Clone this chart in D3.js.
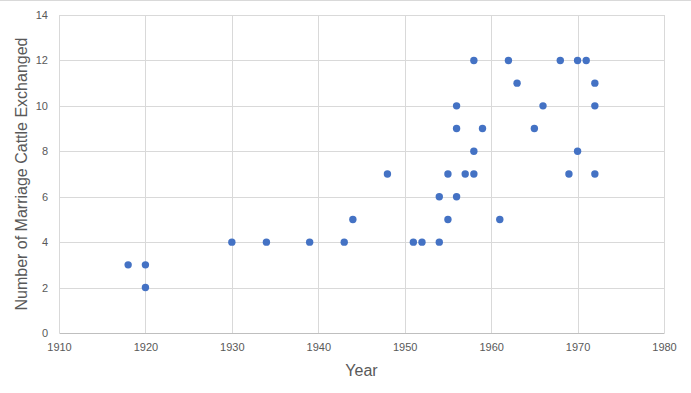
<!DOCTYPE html>
<html>
<head>
<meta charset="utf-8">
<script src="https://cdn.jsdelivr.net/npm/d3@7"></script>
<style>
  body { margin: 0; background: #fff; }
  svg { display: block; font-family: "Liberation Sans", Arial, sans-serif; }
</style>
</head>
<body>
<div id="chart-area"></div>
<script>
// data
var years = [1918, 1920, 1920, 1930, 1934, 1939, 1943, 1944, 1948,
             1951, 1952, 1954, 1954, 1955, 1955, 1956, 1956, 1956, 1957,
             1958, 1958, 1958, 1959, 1961, 1962, 1963, 1965, 1966,
             1968, 1969, 1970, 1970, 1971, 1972, 1972, 1972];
var cattle = [3, 3, 2, 4, 4, 4, 4, 5, 7,
              4, 4, 4, 6, 5, 7, 10, 9, 6, 7,
              12, 8, 7, 9, 5, 12, 11, 9, 10,
              12, 7, 12, 8, 12, 11, 10, 7];
var xTicks = [1910, 1920, 1930, 1940, 1950, 1960, 1970, 1980];
var yTicks = [0, 2, 4, 6, 8, 10, 12, 14];

var W = 691, H = 393;
var margin = { top: 15, right: 27, bottom: 60, left: 59 },
    width = W - margin.left - margin.right,
    height = H - margin.top - margin.bottom;

var root = d3.select('#chart-area').append('svg')
    .attr('width', W)
    .attr('height', H);

// top edge line
root.append('line')
    .attr('x1', 0).attr('x2', W)
    .attr('y1', 0.5).attr('y2', 0.5)
    .attr('stroke', '#d9d9d9');

var svg = root.append('g')
    .attr('transform', 'translate(' + margin.left + ',' + margin.top + ')');

var x = d3.scaleLinear().domain([1910, 1980]).range([0, width]);
var y = d3.scaleLinear().domain([0, 14]).range([height, 0]);

// horizontal grid
svg.append('g')
  .selectAll('line')
  .data(yTicks.slice(1))
  .enter().append('line')
    .attr('x1', 0).attr('x2', width)
    .attr('y1', function(d){ return Math.round(y(d)) + 0.5 })
    .attr('y2', function(d){ return Math.round(y(d)) + 0.5 })
    .attr('stroke', '#d9d9d9');

// vertical grid
svg.append('g')
  .selectAll('line')
  .data(xTicks)
  .enter().append('line')
    .attr('y1', 0).attr('y2', height)
    .attr('x1', function(d){ return Math.round(x(d)) + 0.5 })
    .attr('x2', function(d){ return Math.round(x(d)) + 0.5 })
    .attr('stroke', '#d9d9d9');

//x axis
var xAxis = d3.axisBottom(x)
    .tickValues(xTicks)
    .tickSize(0)
    .tickPadding(10)
    .tickFormat(d3.format('d'));

var gx = svg.append('g')
    .attr('transform', 'translate(0,' + height + ')')
    .call(xAxis);
gx.select('.domain').attr('stroke', '#bfbfbf');
gx.selectAll('text').attr('fill', '#595959').attr('font-size', '11px');

//y axis
var yAxis = d3.axisLeft(y)
    .tickValues(yTicks)
    .tickSize(0)
    .tickPadding(11);

var gy = svg.append('g').call(yAxis);
gy.select('.domain').remove();
gy.selectAll('text').attr('fill', '#595959').attr('font-size', '11px');

//labels
svg.append('text')
    .attr('x', width / 2)
    .attr('y', height + 43)
    .attr('text-anchor', 'middle')
    .attr('font-size', '16px')
    .attr('fill', '#595959')
    .text('Year');

svg.append('text')
    .attr('transform', 'rotate(-90)')
    .attr('x', -height / 2)
    .attr('y', -32)
    .attr('text-anchor', 'middle')
    .attr('font-size', '16px')
    .attr('fill', '#595959')
    .text('Number of Marriage Cattle Exchanged');

// points
svg.append('g')
  .selectAll('circle')
  .data(years)
  .enter().append('circle')
    .attr('cx', function(d){ return x(d) })
    .attr('cy', function(d, i){ return y(cattle[i]) })
    .attr('r', 3.7)
    .attr('fill', '#4472c4');
</script>
</body>
</html>
